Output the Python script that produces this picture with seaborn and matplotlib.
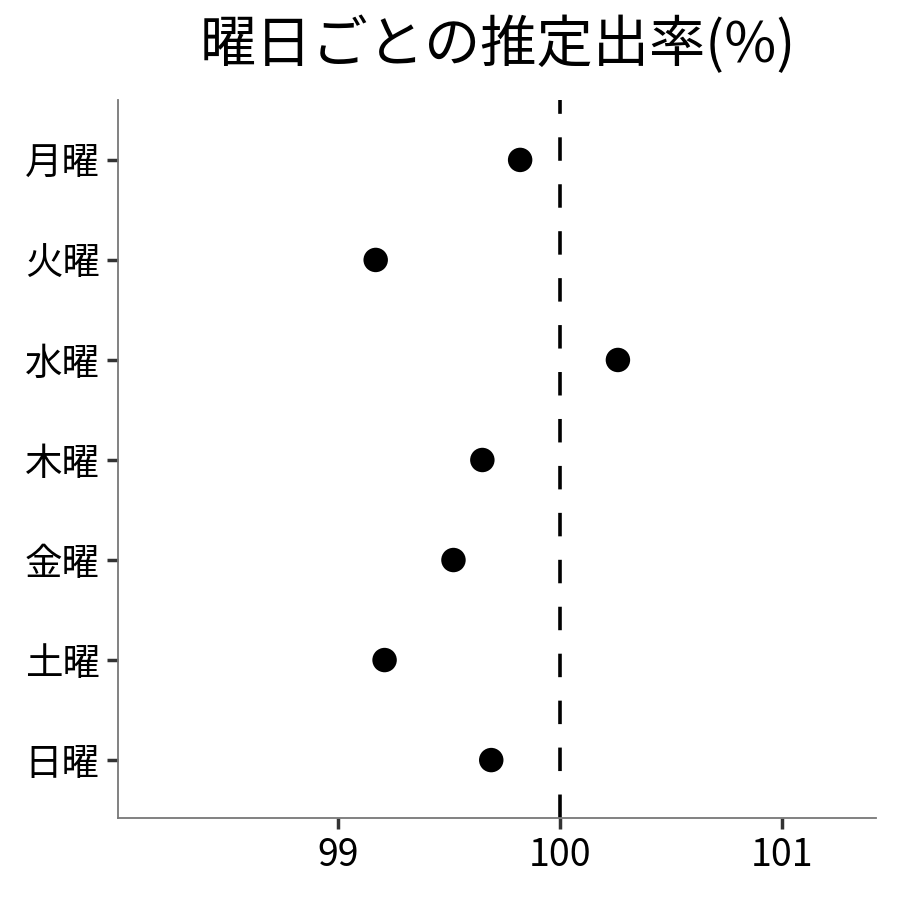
import matplotlib
matplotlib.use("Agg")
import matplotlib.pyplot as plt
import seaborn as sns
import pandas as pd

# 曜日ごとの推定出率
days = ["月曜", "火曜", "水曜", "木曜", "金曜", "土曜", "日曜"]
rate = [99.82, 99.17, 100.26, 99.65, 99.52, 99.21, 99.69]

df = pd.DataFrame({"曜日": days, "出率": rate})

sns.set_style("white")
plt.rcParams["font.family"] = ["Noto Sans CJK JP", "DejaVu Sans"]

fig = plt.figure(figsize=(9, 9), dpi=100)
ax = fig.add_axes([0.131, 0.091, 0.842, 0.798])

sns.scatterplot(data=df, x="出率", y="曜日", color="black", s=310,
                edgecolor="none", ax=ax, zorder=3)
ax.axvline(100, color="black", lw=2.6, ls=(0, (6.5, 6.5)), zorder=2)

ax.set_xlim(98.01, 101.42)
ax.set_ylim(6.58, -0.6)
ax.set_xticks([99, 100, 101])
ax.set_xlabel("")
ax.set_ylabel("")
ax.tick_params(axis="both", labelsize=27, length=8, width=2.5,
               color="#333333", labelcolor="black", pad=5)
ax.tick_params(axis="both", which="both", left=True, bottom=True)

sns.despine(ax=ax)
for side in ["left", "bottom"]:
    ax.spines[side].set_color("#777777")
    ax.spines[side].set_linewidth(1.3)

fig.suptitle("曜日ごとの推定出率(%)", fontsize=40.5, x=0.553, y=0.982,
             va="top", color="black")

fig.savefig("out.png", dpi=100)
